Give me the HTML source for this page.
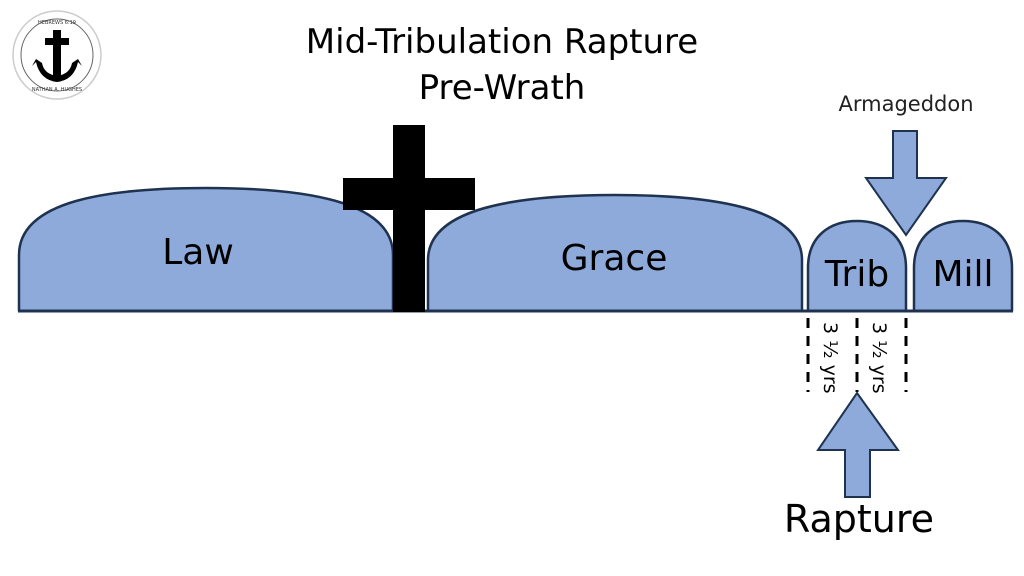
<!DOCTYPE html>
<html><head><style>body{margin:0;background:#fff}svg{display:block}</style></head><body>
<svg width="1024" height="576" viewBox="0 0 1024 576" font-family="'DejaVu Sans', 'Liberation Sans', sans-serif">
<rect width="1024" height="576" fill="#fff"/>
<!-- logo -->
<circle cx="57" cy="55" r="44" fill="#fff" stroke="#ccc" stroke-width="1.5"/>
<circle cx="57" cy="55" r="36" fill="none" stroke="#666" stroke-width="1"/>
<text x="57" y="24" font-size="5" text-anchor="middle" fill="#333">HEBREWS 6:19</text>
<text x="57" y="91" font-size="5" text-anchor="middle" fill="#333">NATHAN A. HUGHES</text>
<rect x="53" y="30" width="8" height="46" fill="#000"/>
<rect x="45" y="38" width="24" height="7" fill="#000"/>
<path d="M36 62 Q40 80 57 82 Q74 80 78 62 L82 66 L78 59 L72 63 Q70 74 57 76 Q44 74 42 63 L36 59 L32 66Z" fill="#000"/>
<!-- title -->
<text x="502" y="53" font-size="34" text-anchor="middle" fill="#000">Mid-Tribulation Rapture</text>
<text x="502" y="99" font-size="34" text-anchor="middle" fill="#000">Pre-Wrath</text>
<!-- domes -->
<g fill="#8eaadb" stroke="#1f3350" stroke-width="2.5">
<path d="M19 311 L19 255 C19 200 110 188 206 188 C302 188 393 200 393 255 L393 311"/>
<path d="M428 311 L428 260 C428 207 520 195 615 195 C710 195 802 207 802 260 L802 311"/>
<path d="M808 311 L808 268 C808 236 830 221 857 221 C884 221 906 236 906 268 L906 311"/>
<path d="M914 311 L914 268 C914 236 936 221 963 221 C990 221 1012 236 1012 268 L1012 311"/>
</g>
<line x1="18" y1="311" x2="1013" y2="311" stroke="#1f3350" stroke-width="3"/>
<!-- cross -->
<rect x="393" y="125" width="32" height="187" fill="#000"/>
<rect x="343" y="178" width="132" height="32" fill="#000"/>
<!-- labels -->
<g font-size="36" fill="#000" text-anchor="middle">
<text x="198" y="264">Law</text>
<text x="614" y="270">Grace</text>
<text x="857" y="286">Trib</text>
<text x="963" y="286">Mill</text>
</g>
<!-- Armageddon -->
<text x="906" y="111" font-size="21" text-anchor="middle" fill="#222">Armageddon</text>
<path d="M893 131 L917 131 L917 178 L946 178 L906 235 L866 178 L893 178Z" fill="#8eaadb" stroke="#1f3350" stroke-width="2"/>
<!-- dashed -->
<g stroke="#000" stroke-width="3" stroke-dasharray="10,8">
<line x1="808" y1="318" x2="808" y2="392"/>
<line x1="857" y1="318" x2="857" y2="392"/>
<line x1="906" y1="318" x2="906" y2="392"/>
</g>
<text transform="translate(824,322) rotate(90)" font-size="19" fill="#000">3 ½ yrs</text>
<text transform="translate(873,322) rotate(90)" font-size="19" fill="#000">3 ½ yrs</text>
<!-- Rapture -->
<path d="M857 393 L898 450 L870 450 L870 497 L845 497 L845 450 L818 450Z" fill="#8eaadb" stroke="#1f3350" stroke-width="2"/>
<text x="859" y="532" font-size="38" text-anchor="middle" fill="#000">Rapture</text>
</svg>
</body></html>
